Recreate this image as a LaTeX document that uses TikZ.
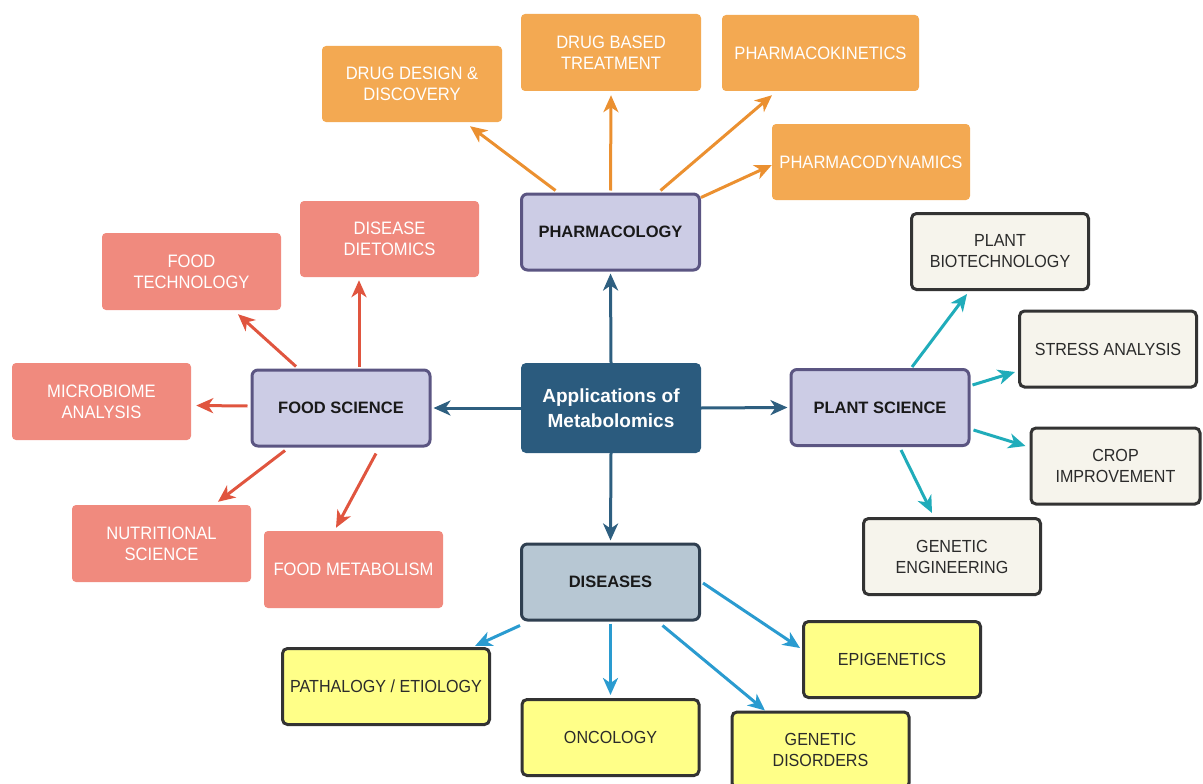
\documentclass[tikz,border=0pt]{standalone}
\usepackage{fontspec}
\setmainfont{Liberation Sans}
\newfontfamily\narrowfont[FakeStretch=0.92]{Liberation Sans}
\usetikzlibrary{arrows.meta}
\definecolor{cfill}{HTML}{2B5B7E}
\definecolor{carrow}{HTML}{2E5F80}
\definecolor{lavfill}{HTML}{CCCCE5}
\definecolor{lavdraw}{HTML}{5B5582}
\definecolor{disfill}{HTML}{B7C7D3}
\definecolor{disdraw}{HTML}{2F3F50}
\definecolor{orfill}{HTML}{F3A952}
\definecolor{orarrow}{HTML}{EB9030}
\definecolor{safill}{HTML}{F08A7E}
\definecolor{saarrow}{HTML}{E0553F}
\definecolor{crfill}{HTML}{F6F4EC}
\definecolor{ylfill}{HTML}{FFFF88}
\definecolor{bxdraw}{HTML}{333333}
\definecolor{tlarrow}{HTML}{20ACBA}
\definecolor{blarrow}{HTML}{2A9BD0}
\definecolor{darktext}{HTML}{2B2B2B}
\tikzset{
  box/.style={rectangle, align=center, inner sep=0pt},
  mainbox/.style={box, fill=lavfill, draw=lavdraw, line width=3pt, rounded corners=6pt,
    minimum width=178pt, minimum height=76pt,
    font=\fontsize{16.5}{20}\selectfont\bfseries, text=black!90},
  centerbox/.style={box, fill=cfill, rounded corners=5pt, minimum width=180pt, minimum height=90pt,
    font=\fontsize{19}{25}\selectfont\bfseries, text=white},
  orbox/.style={box, fill=orfill, rounded corners=4pt, minimum height=76pt,
    font=\narrowfont\fontsize{18}{21}\selectfont, text=white},
  sabox/.style={box, fill=safill, rounded corners=4pt, minimum width=179pt, minimum height=77pt,
    font=\narrowfont\fontsize{18}{21}\selectfont, text=white},
  crbox/.style={box, fill=crfill, draw=bxdraw, line width=3pt, rounded corners=5pt,
    minimum width=177pt, minimum height=76pt,
    font=\narrowfont\fontsize{17.5}{21}\selectfont, text=darktext},
  ylbox/.style={crbox, fill=ylfill},
  conn/.style={line width=3pt, -{Stealth[length=17pt,width=15pt,inset=5pt]}},
}
\begin{document}
\begin{tikzpicture}[x=1pt,y=-1pt]
\useasboundingbox (0,0) rectangle (1203,784);
% central and main nodes
\node[centerbox] (center) at (611,408) {Applications of\\Metabolomics};
\node[mainbox] (pharm) at (610.5,232) {PHARMACOLOGY};
\node[mainbox] (food) at (341,408) {FOOD SCIENCE};
\node[mainbox] (plant) at (880,407.5) {PLANT SCIENCE};
\node[mainbox, fill=disfill, draw=disdraw] (dis) at (610.5,582) {DISEASES};
% pharmacology children
\node[orbox, minimum width=180pt] (drugdesign) at (412,84) {DRUG DESIGN \&\\DISCOVERY};
\node[orbox, minimum width=180pt, minimum height=77pt] (drugbased) at (611,52.5) {DRUG BASED\\TREATMENT};
\node[orbox, minimum width=197pt] (pk) at (820.5,53) {PHARMACOKINETICS};
\node[orbox, minimum width=198pt] (pd) at (871,162) {PHARMACODYNAMICS};
% food science children
\node[sabox] (foodtech) at (191.5,271.5) {FOOD\\TECHNOLOGY};
\node[sabox, minimum height=76pt] (dietomics) at (389.5,239) {DISEASE\\DIETOMICS};
\node[sabox] (microbiome) at (101.5,401.5) {MICROBIOME\\ANALYSIS};
\node[sabox] (nutritional) at (161.5,543.5) {NUTRITIONAL\\SCIENCE};
\node[sabox] (foodmet) at (353.5,569.5) {FOOD METABOLISM};
% plant science children
\node[crbox] (biotech) at (1000,251.5) {PLANT\\BIOTECHNOLOGY};
\node[crbox] (stress) at (1108,349) {STRESS ANALYSIS};
\node[crbox, minimum width=169pt] (crop) at (1115.5,466) {CROP\\IMPROVEMENT};
\node[crbox] (geneng) at (952,556.5) {GENETIC\\ENGINEERING};
% diseases children
\node[ylbox, minimum width=207pt] (patho) at (386,686.5) {PATHALOGY / ETIOLOGY};
\node[ylbox] (onco) at (610.5,737.5) {ONCOLOGY};
\node[ylbox] (gendis) at (820.5,750) {GENETIC\\DISORDERS};
\node[ylbox] (epi) at (892,659.5) {EPIGENETICS};
% central connectors
\draw[conn, carrow] (center.north) -- ([yshift=-2pt]pharm.south);
\draw[conn, carrow] (center.west) -- ([xshift=2pt]food.east);
\draw[conn, carrow] (center.east) -- ([xshift=-2pt]plant.west);
\draw[conn, carrow] (center.south) -- ([yshift=2pt]dis.north);
% pharmacology connectors
\draw[conn, orarrow] ([xshift=-55pt,yshift=2pt]pharm.north) -- ([xshift=58pt,yshift=-4pt]drugdesign.south);
\draw[conn, orarrow] ([yshift=2pt]pharm.north) -- ([yshift=-4pt]drugbased.south);
\draw[conn, orarrow] ([xshift=50pt,yshift=2pt]pharm.north) -- ([xshift=-48.5pt,yshift=-4pt]pk.south);
\draw[conn, orarrow] ([yshift=-5pt]pharm.north east) -- ([yshift=-3pt]pd.west);
% food science connectors
\draw[conn, saarrow] ([xshift=-45pt,yshift=2pt]food.north) -- ([xshift=46.5pt,yshift=-4pt]foodtech.south);
\draw[conn, saarrow] ([xshift=18pt,yshift=2pt]food.north) -- ([xshift=-30.5pt,yshift=-3pt]dietomics.south);
\draw[conn, saarrow] ([xshift=-3pt,yshift=2pt]food.west) -- ([xshift=5pt,yshift=-4pt]microbiome.east);
\draw[conn, saarrow] ([xshift=-56pt,yshift=-3pt]food.south) -- ([xshift=56.5pt,yshift=3pt]nutritional.north);
\draw[conn, saarrow] ([xshift=35pt,yshift=-6pt]food.south) -- ([xshift=-17.5pt,yshift=3pt]foodmet.north);
% plant science connectors
\draw[conn, tlarrow] ([xshift=32pt,yshift=1pt]plant.north) -- ([xshift=-33pt,yshift=-3pt]biotech.south);
\draw[conn, tlarrow] ([xshift=2pt,yshift=22.5pt]plant.east) -- ([xshift=-3pt,yshift=-23pt]stress.west);
\draw[conn, tlarrow] ([xshift=3pt,yshift=-22.5pt]plant.east) -- ([xshift=-4pt,yshift=20pt]crop.west);
\draw[conn, tlarrow] ([xshift=21pt,yshift=-3pt]plant.south) -- ([xshift=-20pt,yshift=4pt]geneng.north);
% diseases connectors
\draw[conn, blarrow] ([yshift=-4pt]dis.south west) -- ([xshift=89pt,yshift=1pt]patho.north);
\draw[conn, blarrow] ([yshift=-2pt]dis.south) -- ([yshift=3pt]onco.north);
\draw[conn, blarrow] ([xshift=52pt,yshift=-4pt]dis.south) -- ([xshift=-55.5pt,yshift=0pt]gendis.north);
\draw[conn, blarrow] ([xshift=2pt,yshift=-1pt]dis.east) -- ([xshift=-2pt,yshift=11.5pt]epi.west);
\end{tikzpicture}
\end{document}
